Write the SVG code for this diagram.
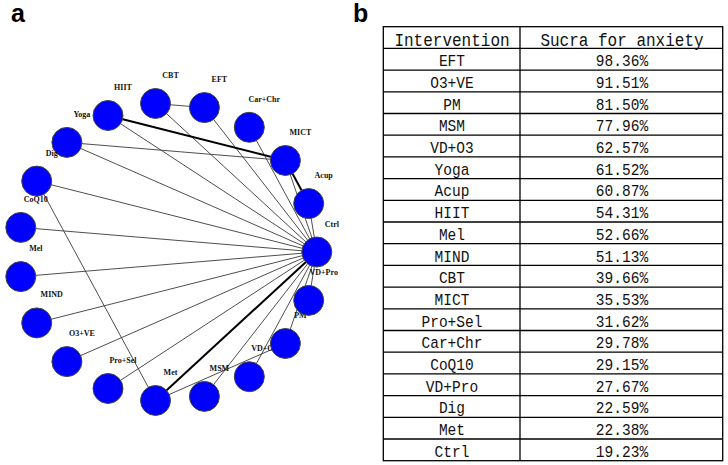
<svg xmlns="http://www.w3.org/2000/svg" width="728" height="465" viewBox="0 0 728 465">
<style>
.e{stroke:#3a3a3a;stroke-width:0.9;fill:none}
.t{stroke:#000;stroke-width:2;fill:none}
.n circle{fill:#0000ff;stroke:#444;stroke-width:1}
.n text{font-family:"Liberation Serif",serif;font-weight:bold;font-size:8px;fill:#111;text-anchor:middle}
.pl{font-family:"Liberation Sans",sans-serif;font-weight:bold;font-size:25px;fill:#000}
.tb{stroke:#000;stroke-width:1.3;fill:none}
.c{font-family:"Liberation Mono",monospace;font-size:16.5px;fill:#111;text-anchor:middle}
.h{font-family:"Liberation Mono",monospace;font-size:18px;fill:#111;text-anchor:middle}
</style>
<rect width="728" height="465" fill="#fff"/>
<text class="pl" x="11" y="22">a</text>
<text class="pl" x="353" y="22">b</text>
<g id="edges">
<line class="e" x1="155.5" y1="103.5" x2="204.4" y2="107.6"/>
<line class="e" x1="155.5" y1="103.5" x2="316.8" y2="252"/>
<line class="e" x1="204.4" y1="107.6" x2="316.8" y2="252"/>
<line class="e" x1="249.3" y1="127.3" x2="316.8" y2="252"/>
<line class="e" x1="285.4" y1="160.5" x2="316.8" y2="252"/>
<line class="e" x1="308.7" y1="203.6" x2="316.8" y2="252"/>
<line class="e" x1="108" y1="115.5" x2="316.8" y2="252"/>
<line class="e" x1="66.9" y1="142.4" x2="285.4" y2="160.5"/>
<line class="e" x1="66.9" y1="142.4" x2="316.8" y2="252"/>
<line class="e" x1="36.7" y1="181.1" x2="316.8" y2="252"/>
<line class="e" x1="36.7" y1="181.1" x2="155.5" y2="400.5"/>
<line class="e" x1="20.8" y1="227.4" x2="316.8" y2="252"/>
<line class="e" x1="20.8" y1="276.6" x2="316.8" y2="252"/>
<line class="e" x1="36.7" y1="322.9" x2="316.8" y2="252"/>
<line class="e" x1="66.9" y1="361.6" x2="316.8" y2="252"/>
<line class="e" x1="108" y1="388.5" x2="316.8" y2="252"/>
<line class="e" x1="155.5" y1="400.5" x2="285.4" y2="343.5"/>
<line class="e" x1="204.4" y1="396.4" x2="316.8" y2="252"/>
<line class="e" x1="249.3" y1="376.7" x2="316.8" y2="252"/>
<line class="e" x1="285.4" y1="343.5" x2="316.8" y2="252"/>
<line class="e" x1="308.7" y1="300.4" x2="316.8" y2="252"/>
<line class="t" x1="108" y1="115.5" x2="285.4" y2="160.5"/>
<line class="t" x1="285.4" y1="160.5" x2="308.7" y2="203.6"/>
<line class="t" x1="155.5" y1="400.5" x2="316.8" y2="252"/>
</g>
<g id="node-Ctrl" class="n"><circle cx="316.8" cy="252" r="15"/><text x="331.8" y="226.5">Ctrl</text></g>
<g id="node-Acup" class="n"><circle cx="308.7" cy="203.6" r="15"/><text x="323.7" y="178.1">Acup</text></g>
<g id="node-MICT" class="n"><circle cx="285.4" cy="160.5" r="15"/><text x="300.4" y="135">MICT</text></g>
<g id="node-CarChr" class="n"><circle cx="249.3" cy="127.3" r="15"/><text x="264.3" y="101.8">Car+Chr</text></g>
<g id="node-EFT" class="n"><circle cx="204.4" cy="107.6" r="15"/><text x="219.4" y="82.1">EFT</text></g>
<g id="node-CBT" class="n"><circle cx="155.5" cy="103.5" r="15"/><text x="170.5" y="78">CBT</text></g>
<g id="node-HIIT" class="n"><circle cx="108" cy="115.5" r="15"/><text x="123" y="90">HIIT</text></g>
<g id="node-Yoga" class="n"><circle cx="66.9" cy="142.4" r="15"/><text x="81.9" y="116.9">Yoga</text></g>
<g id="node-Dig" class="n"><circle cx="36.7" cy="181.1" r="15"/><text x="51.7" y="155.6">Dig</text></g>
<g id="node-CoQ10" class="n"><circle cx="20.8" cy="227.4" r="15"/><text x="35.8" y="201.9">CoQ10</text></g>
<g id="node-Mel" class="n"><circle cx="20.8" cy="276.6" r="15"/><text x="35.8" y="251.1">Mel</text></g>
<g id="node-MIND" class="n"><circle cx="36.7" cy="322.9" r="15"/><text x="51.7" y="297.4">MIND</text></g>
<g id="node-O3VE" class="n"><circle cx="66.9" cy="361.6" r="15"/><text x="81.9" y="336.1">O3+VE</text></g>
<g id="node-ProSel" class="n"><circle cx="108" cy="388.5" r="15"/><text x="123" y="363">Pro+Sel</text></g>
<g id="node-Met" class="n"><circle cx="155.5" cy="400.5" r="15"/><text x="170.5" y="375">Met</text></g>
<g id="node-MSM" class="n"><circle cx="204.4" cy="396.4" r="15"/><text x="219.4" y="370.9">MSM</text></g>
<g id="node-VDO3" class="n"><circle cx="249.3" cy="376.7" r="15"/><text x="264.3" y="351.2">VD+O3</text></g>
<g id="node-PM" class="n"><circle cx="285.4" cy="343.5" r="15"/><text x="300.4" y="318">PM</text></g>
<g id="node-VDPro" class="n"><circle cx="308.7" cy="300.4" r="15"/><text x="323.7" y="274.9">VD+Pro</text></g>
<g id="table">
<rect class="tb" x="383.3" y="26.7" width="339.4" height="434"/>
<line class="tb" x1="520" y1="26.7" x2="520" y2="460.7"/>
<path class="tb" d="M383.3 48.4H722.7M383.3 70.1H722.7M383.3 91.8H722.7M383.3 113.5H722.7M383.3 135.2H722.7M383.3 156.9H722.7M383.3 178.6H722.7M383.3 200.3H722.7M383.3 222H722.7M383.3 243.7H722.7M383.3 265.4H722.7M383.3 287.1H722.7M383.3 308.8H722.7M383.3 330.5H722.7M383.3 352.2H722.7M383.3 373.9H722.7M383.3 395.6H722.7M383.3 417.3H722.7M383.3 439H722.7"/>
<g transform="scale(0.89,1)">
<text class="h" x="507.9" y="45.8">Intervention</text><text class="h" x="698.9" y="45.8">Sucra for anxiety</text>
</g>
<g transform="scale(0.88,1)">
<text class="c" x="513.6" y="66.3">EFT</text><text class="c" x="706.8" y="66.3">98.36%</text>
<text class="c" x="513.6" y="88">O3+VE</text><text class="c" x="706.8" y="88">91.51%</text>
<text class="c" x="513.6" y="109.7">PM</text><text class="c" x="706.8" y="109.7">81.50%</text>
<text class="c" x="513.6" y="131.4">MSM</text><text class="c" x="706.8" y="131.4">77.96%</text>
<text class="c" x="513.6" y="153.1">VD+O3</text><text class="c" x="706.8" y="153.1">62.57%</text>
<text class="c" x="513.6" y="174.8">Yoga</text><text class="c" x="706.8" y="174.8">61.52%</text>
<text class="c" x="513.6" y="196.5">Acup</text><text class="c" x="706.8" y="196.5">60.87%</text>
<text class="c" x="513.6" y="218.2">HIIT</text><text class="c" x="706.8" y="218.2">54.31%</text>
<text class="c" x="513.6" y="239.9">Mel</text><text class="c" x="706.8" y="239.9">52.66%</text>
<text class="c" x="513.6" y="261.6">MIND</text><text class="c" x="706.8" y="261.6">51.13%</text>
<text class="c" x="513.6" y="283.3">CBT</text><text class="c" x="706.8" y="283.3">39.66%</text>
<text class="c" x="513.6" y="305">MICT</text><text class="c" x="706.8" y="305">35.53%</text>
<text class="c" x="513.6" y="326.7">Pro+Sel</text><text class="c" x="706.8" y="326.7">31.62%</text>
<text class="c" x="513.6" y="348.4">Car+Chr</text><text class="c" x="706.8" y="348.4">29.78%</text>
<text class="c" x="513.6" y="370.1">CoQ10</text><text class="c" x="706.8" y="370.1">29.15%</text>
<text class="c" x="513.6" y="391.8">VD+Pro</text><text class="c" x="706.8" y="391.8">27.67%</text>
<text class="c" x="513.6" y="413.5">Dig</text><text class="c" x="706.8" y="413.5">22.59%</text>
<text class="c" x="513.6" y="435.2">Met</text><text class="c" x="706.8" y="435.2">22.38%</text>
<text class="c" x="513.6" y="456.9">Ctrl</text><text class="c" x="706.8" y="456.9">19.23%</text>
</g>
</g>
</svg>
